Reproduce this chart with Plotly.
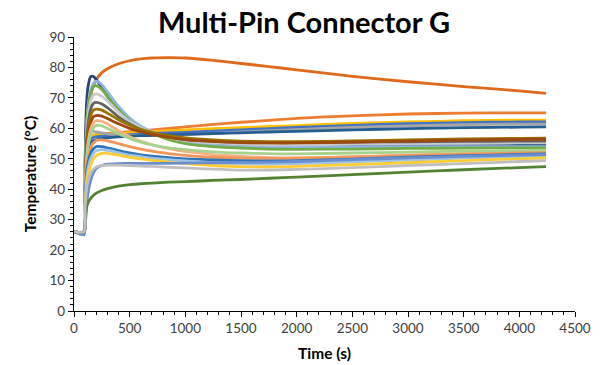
import plotly.graph_objects as go

# Sample times (s)
time_s = [0, 90, 100, 110, 125, 150, 175, 200, 250, 300, 400, 500, 600, 700, 850,
          1000, 1250, 1500, 1750, 2000, 2500, 3000, 3500, 4000, 4240]

# Temperature series (°C)
s_orange_top = [26, 26, 50, 62, 66.5, 71, 74, 76, 78.3, 79.6, 81.2, 82.2, 82.8, 83.1, 83.2,
                83.1, 82.3, 81.3, 80.3, 79.2, 77.1, 75.3, 73.7, 72.3, 71.5]
s_orange2 = [26, 26, 45, 55, 57, 57.6, 57.8, 57.9, 58.1, 58.3, 58.6, 58.9, 59.2, 59.5, 60,
             60.5, 61.3, 62, 62.6, 63.3, 64.1, 64.7, 65, 65.1, 65.1]
s_yellow1 = [26, 26, 42, 52, 56, 57.3, 57.6, 57.8, 58, 58.1, 58.3, 58.5, 58.7, 58.9, 59.2,
             59.5, 59.9, 60.2, 60.6, 60.9, 61.6, 62.1, 62.5, 62.7, 62.7]
s_blue1 = [26, 26, 40, 50, 54.5, 56.5, 57, 57.2, 57.4, 57.5, 57.7, 57.9, 58.1, 58.3, 58.5,
           58.7, 59.1, 59.5, 59.9, 60.3, 61, 61.5, 61.9, 62.1, 62.1]
s_gray1 = [26, 26, 45, 57, 59.2, 59.2, 59, 58.8, 58.5, 58.2, 57.9, 57.7, 57.6, 57.6, 57.7,
           57.9, 58.3, 58.8, 59.2, 59.6, 60.3, 60.8, 61.2, 61.4, 61.4]
s_steel = [26, 26, 38, 48, 53, 55.4, 55.9, 56.2, 56.6, 56.9, 57.2, 57.4, 57.6, 57.7, 57.9,
           58, 58.3, 58.5, 58.8, 59, 59.5, 59.9, 60.2, 60.4, 60.5]
s_navy = [26, 26, 48, 66, 73.5, 77, 77, 76, 73.4, 70.5, 66, 62.5, 60.2, 58.6, 56.8,
          55.6, 54.6, 54.1, 53.9, 53.9, 54.1, 54.2, 54.3, 54.4, 54.4]
s_lightblue1 = [26, 26, 42, 58, 67, 72.5, 74.8, 75.5, 74.3, 72, 67.2, 63.4, 60.7, 58.9, 56.9,
                55.6, 54.5, 54, 53.8, 53.8, 53.9, 54, 54, 54, 54]
s_green1 = [26, 26, 42, 58, 66, 71.5, 73.8, 74, 72.8, 70.5, 66, 62.5, 60, 58.3, 56.3,
            55, 54, 53.5, 53.2, 53.1, 53.2, 53.4, 53.5, 53.6, 53.6]
s_lightgray = [26, 26, 42, 56, 63.5, 69, 71, 71.3, 70.5, 69, 65.3, 62.3, 60.2, 58.7, 57,
               56, 55.2, 54.8, 54.6, 54.6, 54.8, 55, 55.1, 55.2, 55.2]
s_darkgray = [26, 26, 40, 54, 61, 66.3, 68.2, 68.5, 68, 66.8, 63.8, 61.4, 59.6, 58.4, 57.1,
              56.3, 55.7, 55.4, 55.3, 55.3, 55.5, 55.6, 55.7, 55.8, 55.8]
s_olive = [26, 26, 40, 52, 59, 64, 66, 66.3, 66, 65, 62.8, 61, 59.7, 58.7, 57.6,
           56.9, 56.2, 55.8, 55.6, 55.6, 55.9, 56.2, 56.5, 56.7, 56.8]
s_brown = [26, 26, 38, 50, 57, 61.8, 63.8, 64.2, 64, 63.2, 61.5, 60, 58.9, 58, 57,
           56.3, 55.7, 55.3, 55.2, 55.2, 55.5, 55.8, 56.1, 56.4, 56.5]
s_peach = [26, 26, 38, 48, 55, 59.8, 61.8, 62.5, 62.3, 61.5, 59.2, 57.2, 55.7, 54.6, 53.3,
           52.4, 51.4, 50.8, 50.4, 50.3, 50.6, 51.2, 51.7, 52.1, 52.2]
s_lightgreen = [26, 26, 38, 47, 53.5, 58, 60.2, 61, 60.8, 60, 58.2, 56.7, 55.5, 54.6, 53.6,
                53, 52.3, 51.9, 51.7, 51.6, 51.9, 52.2, 52.5, 52.7, 52.8]
s_salmon = [26, 26, 36, 45, 50, 53.5, 55.2, 56, 56.2, 55.9, 55, 54, 53.2, 52.5, 51.7,
            51.1, 50.5, 50.2, 50.1, 50.2, 50.6, 51.1, 51.5, 51.9, 52]
s_blue2 = [26, 26, 36, 44, 48.5, 51.8, 53.3, 54, 54, 53.6, 52.7, 51.9, 51.3, 50.9, 50.4,
           50, 49.6, 49.4, 49.3, 49.4, 49.9, 50.5, 51, 51.4, 51.6]
s_lightblue2 = [26, 26, 35, 42, 46.5, 50, 51.8, 52.6, 53, 52.8, 52, 51.2, 50.7, 50.2, 49.7,
                49.3, 48.7, 48.3, 48.2, 48.4, 49, 49.6, 50.2, 50.7, 50.9]
s_yellow2 = [26, 26, 34, 40, 44.5, 48, 50, 51, 51.8, 51.8, 51.2, 50.5, 50, 49.5, 48.9,
             48.4, 47.8, 47.4, 47.3, 47.5, 48.1, 48.7, 49.4, 50, 50.3]
s_cornflower = [26, 25, 29, 34, 38.5, 43, 45.5, 46.8, 47.8, 48.2, 48.4, 48.5, 48.5, 48.5, 48.5,
                48.6, 48.7, 48.8, 48.9, 49.1, 49.7, 50.3, 50.8, 51.2, 51.4]
s_green_bottom = [26, 26, 30, 33.5, 35.5, 37, 38, 38.7, 39.6, 40.2, 41, 41.5, 41.8, 42, 42.3,
                  42.5, 42.9, 43.2, 43.6, 44, 44.8, 45.6, 46.4, 47.1, 47.4]
s_gray2 = [26, 26, 34, 39, 42.5, 45.3, 46.6, 47.3, 47.8, 47.9, 47.9, 47.8, 47.6, 47.5, 47.2,
           47, 46.6, 46.3, 46.3, 46.5, 47.1, 47.8, 48.4, 49.1, 49.4]

series = [
    (s_orange_top, "#E06A1B"),
    (s_orange2, "#ED7D31"),
    (s_yellow1, "#FFC000"),
    (s_blue1, "#4472C4"),
    (s_gray1, "#A5A5A5"),
    (s_steel, "#255E91"),
    (s_navy, "#264478"),
    (s_lightblue1, "#8FB4E3"),
    (s_green1, "#70AD47"),
    (s_lightgray, "#C9C9C9"),
    (s_darkgray, "#636363"),
    (s_olive, "#997300"),
    (s_brown, "#9E480E"),
    (s_peach, "#F4B183"),
    (s_lightgreen, "#A9D18E"),
    (s_salmon, "#F1975A"),
    (s_blue2, "#2E75B6"),
    (s_lightblue2, "#9DC3E6"),
    (s_yellow2, "#FFCD33"),
    (s_cornflower, "#698ED0"),
    (s_green_bottom, "#548235"),
    (s_gray2, "#BFBFBF"),
]

fig = go.Figure()
for vals, col in series:
    fig.add_trace(go.Scatter(x=time_s, y=vals, mode="lines",
                             line=dict(color=col, width=2.8, shape="spline", smoothing=0.6),
                             showlegend=False, hoverinfo="skip"))

FONT = "Lato, 'Open Sans', sans-serif"
fig.update_layout(
    width=608, height=365,
    margin=dict(l=74, r=33, t=37, b=54),
    paper_bgcolor="white", plot_bgcolor="white",
    font=dict(family=FONT, color="#404040", size=13.5),
    title=dict(text="<b>Multi-Pin Connector G</b>", x=0.5, xanchor="center",
               y=1 - 23 / 365, yanchor="middle",
               font=dict(family=FONT, size=29, color="black")),
    xaxis=dict(range=[0, 4500], dtick=500, tick0=0, showgrid=False, zeroline=False,
               automargin=False,
               showline=True, linecolor="black", linewidth=1.3,
               ticks="outside", ticklen=5, tickcolor="black", tickwidth=1.3,
               minor=dict(dtick=100, ticks="outside", ticklen=3, tickcolor="black", tickwidth=1),
               tickfont=dict(size=13.5, color="#404040"),
               title=dict(text="<b>Time (s)</b>", standoff=12,
                          font=dict(size=15.5, color="black"))),
    yaxis=dict(range=[0, 90], dtick=10, tick0=0, showgrid=False, zeroline=False,
               automargin=False,
               showline=True, linecolor="black", linewidth=1.3,
               ticks="outside", ticklen=5, tickcolor="black", tickwidth=1.3,
               minor=dict(dtick=2, ticks="outside", ticklen=3, tickcolor="black", tickwidth=1),
               tickfont=dict(size=13.5, color="#404040"),
               title=dict(text="<b>Temperature (°C)</b>", standoff=9,
                          font=dict(size=15.5, color="black"))),
)

fig.write_html("out.html")
